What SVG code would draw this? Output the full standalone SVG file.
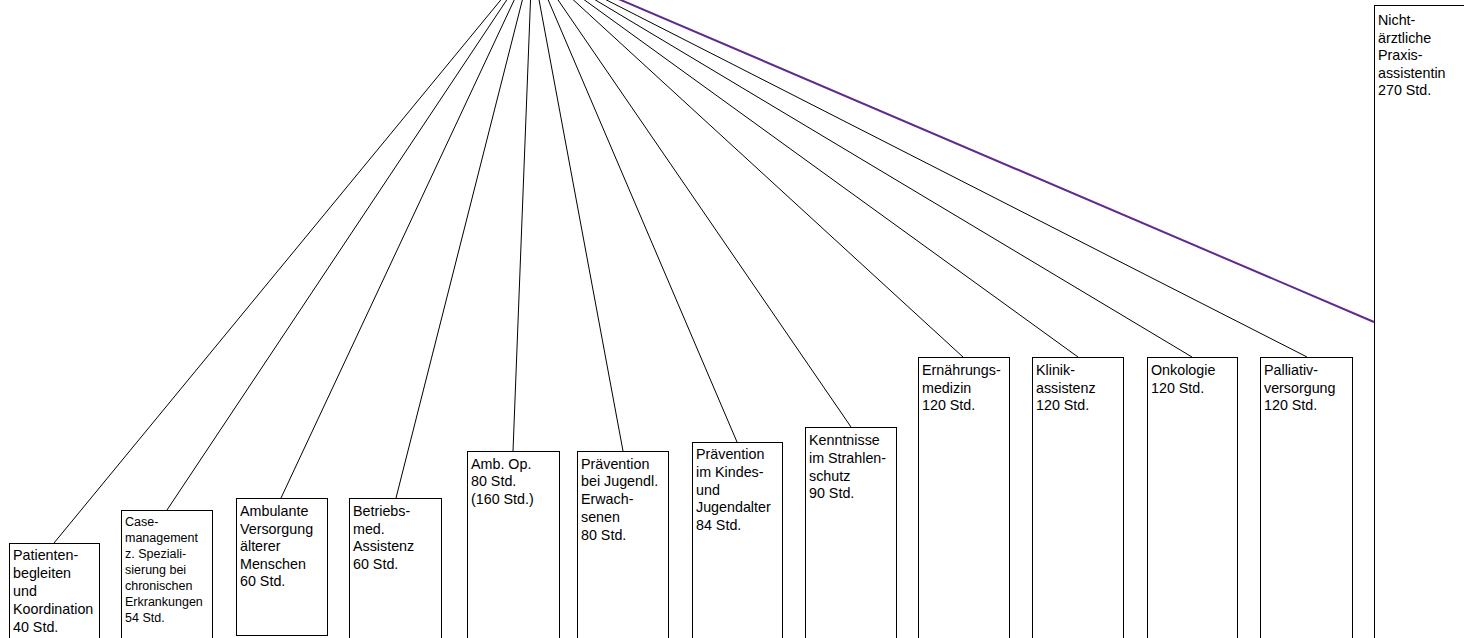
<svg xmlns="http://www.w3.org/2000/svg" width="1464" height="638" viewBox="0 0 1464 638">
<style>
.box{fill:#fff;stroke:#000;stroke-width:1}
.t{font-family:"Liberation Sans",Arial,sans-serif;font-size:14.3px;fill:#000}
.s{font-size:12.5px}
.c{stroke:#000;stroke-width:1;fill:none}
.p{stroke:#5f2a90;stroke-width:2;fill:none}
</style>
<rect width="1464" height="638" fill="#fff"/>
<g id="connectors">
<line class="c" x1="54" y1="543" x2="532" y2="-38"/>
<line class="c" x1="167" y1="510" x2="532" y2="-38"/>
<line class="c" x1="281" y1="498" x2="532" y2="-38"/>
<line class="c" x1="396" y1="498" x2="532" y2="-38"/>
<line class="c" x1="513" y1="451" x2="532" y2="-38"/>
<line class="c" x1="623" y1="451" x2="532" y2="-38"/>
<line class="c" x1="737" y1="442" x2="532" y2="-38"/>
<line class="c" x1="851" y1="427" x2="532" y2="-38"/>
<line class="c" x1="963" y1="357" x2="532" y2="-38"/>
<line class="c" x1="1078" y1="357" x2="532" y2="-38"/>
<line class="c" x1="1192" y1="357" x2="532" y2="-38"/>
<line class="c" x1="1307" y1="357" x2="532" y2="-38"/>
<line class="p" x1="1374" y1="322" x2="532" y2="-38"/>
</g>
<g id="n1"><rect class="box" x="9.5" y="543.5" width="90" height="120"/>
<text class="t" x="13" y="560">Patienten-<tspan x="13" dy="18">begleiten</tspan><tspan x="13" dy="18">und</tspan><tspan x="13" dy="18">Koordination</tspan><tspan x="13" dy="18">40 Std.</tspan></text></g>
<g id="n2"><rect class="box" x="121.5" y="510.5" width="91" height="150"/>
<text class="t s" x="125" y="525.5">Case-<tspan x="125" dy="16">management</tspan><tspan x="125" dy="16">z. Speziali-</tspan><tspan x="125" dy="16">sierung bei</tspan><tspan x="125" dy="16">chronischen</tspan><tspan x="125" dy="16">Erkrankungen</tspan><tspan x="125" dy="16">54 Std.</tspan></text></g>
<g id="n3"><rect class="box" x="236.5" y="498.5" width="91" height="137"/>
<text class="t" x="240" y="516">Ambulante<tspan x="240" dy="17.6">Versorgung</tspan><tspan x="240" dy="17.6">älterer</tspan><tspan x="240" dy="17.6">Menschen</tspan><tspan x="240" dy="17.6">60 Std.</tspan></text></g>
<g id="n4"><rect class="box" x="349.5" y="498.5" width="92" height="160"/>
<text class="t" x="353" y="516">Betriebs-<tspan x="353" dy="17.6">med.</tspan><tspan x="353" dy="17.6">Assistenz</tspan><tspan x="353" dy="17.6">60 Std.</tspan></text></g>
<g id="n5"><rect class="box" x="467.5" y="451.5" width="92" height="200"/>
<text class="t" x="471" y="468.5">Amb. Op.<tspan x="471" dy="17.8">80 Std.</tspan><tspan x="471" dy="17.8">(160 Std.)</tspan></text></g>
<g id="n6"><rect class="box" x="577.5" y="451.5" width="91" height="200"/>
<text class="t" x="581" y="468.5">Prävention<tspan x="581" dy="17.8">bei Jugendl.</tspan><tspan x="581" dy="17.8">Erwach-</tspan><tspan x="581" dy="17.8">senen</tspan><tspan x="581" dy="17.8">80 Std.</tspan></text></g>
<g id="n7"><rect class="box" x="692.5" y="442.5" width="90" height="210"/>
<text class="t" x="696" y="459">Prävention<tspan x="696" dy="17.8">im Kindes-</tspan><tspan x="696" dy="17.8">und</tspan><tspan x="696" dy="17.8">Jugendalter</tspan><tspan x="696" dy="17.8">84 Std.</tspan></text></g>
<g id="n8"><rect class="box" x="805.5" y="427.5" width="91" height="230"/>
<text class="t" x="809" y="445">Kenntnisse<tspan x="809" dy="17.8">im Strahlen-</tspan><tspan x="809" dy="17.8">schutz</tspan><tspan x="809" dy="17.8">90 Std.</tspan></text></g>
<g id="n9"><rect class="box" x="918.5" y="357.5" width="91" height="300"/>
<text class="t" x="922" y="375">Ernährungs-<tspan x="922" dy="17.6">medizin</tspan><tspan x="922" dy="17.6">120 Std.</tspan></text></g>
<g id="n10"><rect class="box" x="1032.5" y="357.5" width="91" height="300"/>
<text class="t" x="1036" y="375">Klinik-<tspan x="1036" dy="17.6">assistenz</tspan><tspan x="1036" dy="17.6">120 Std.</tspan></text></g>
<g id="n11"><rect class="box" x="1147.5" y="357.5" width="90" height="300"/>
<text class="t" x="1151" y="375">Onkologie<tspan x="1151" dy="17.6">120 Std.</tspan></text></g>
<g id="n12"><rect class="box" x="1260.5" y="357.5" width="92" height="300"/>
<text class="t" x="1264" y="375">Palliativ-<tspan x="1264" dy="17.6">versorgung</tspan><tspan x="1264" dy="17.6">120 Std.</tspan></text></g>
<g id="n13"><rect class="box" x="1374.5" y="5.5" width="92" height="660"/>
<text class="t" x="1378" y="25">Nicht-<tspan x="1378" dy="17.6">ärztliche</tspan><tspan x="1378" dy="17.6">Praxis-</tspan><tspan x="1378" dy="17.6">assistentin</tspan><tspan x="1378" dy="17.6">270 Std.</tspan></text></g>
</svg>
